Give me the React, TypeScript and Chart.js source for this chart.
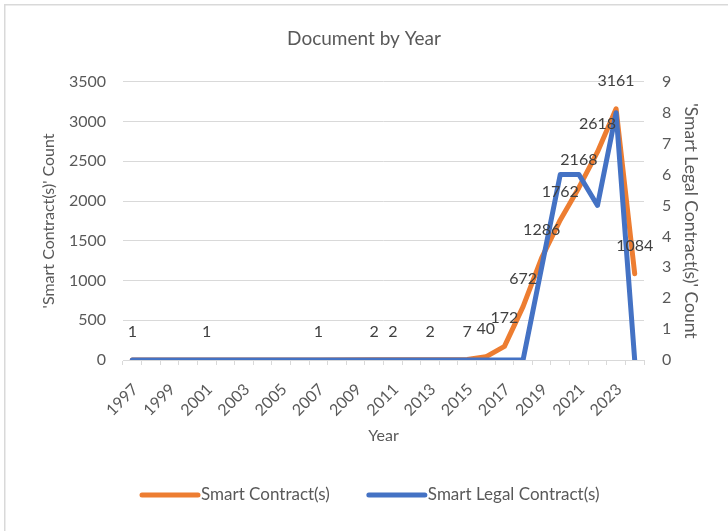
import React, { useEffect, useRef } from "react";
import { Chart, registerables } from "chart.js";

Chart.register(...registerables);

const years = [
  "1997", "1998", "1999", "2000", "2001", "2002", "2003", "2004", "2005", "2006",
  "2007", "2008", "2009", "2010", "2011", "2012", "2013", "2014", "2015", "2016",
  "2017", "2018", "2019", "2020", "2021", "2022", "2023", "2024",
];

// 'Smart Contract(s)' count (left axis); null = no documents that year
const smartContracts: (number | null)[] = [
  1, null, null, null, 1, null, null, null, null, null,
  1, null, null, 2, 2, null, 2, null, 7, 40,
  172, 672, 1286, 1762, 2168, 2618, 3161, 1084,
];

// 'Smart Legal Contract(s)' count (right axis)
const smartLegalContracts: number[] = [
  0, 0, 0, 0, 0, 0, 0, 0, 0, 0,
  0, 0, 0, 0, 0, 0, 0, 0, 0, 0,
  0, 0, 3, 6, 6, 5, 8, 0,
];

const leftAxisMax = 3500;
const leftAxisStep = 500;
const rightAxisMax = 9;
const rightAxisStep = 1;

const FONT = "Lato, 'Open Sans', sans-serif";
const TEXT = "#595959";
const LABEL = "#404040";
const GRID = "#d9d9d9";
const ORANGE = "#ED7D31";
const BLUE = "#4472C4";

const frame = {
  id: "frame",
  beforeDraw(chart: any) {
    const ctx = chart.ctx;
    ctx.save();
    ctx.fillStyle = "#ffffff";
    ctx.fillRect(0, 0, chart.width, chart.height);
    ctx.strokeStyle = GRID;
    ctx.lineWidth = 1.5;
    ctx.strokeRect(4.75, 4.75, chart.width + 40, chart.height + 40);
    ctx.restore();
  },
};

const dataLabels = {
  id: "dataLabels",
  afterDatasetsDraw(chart: any) {
    const ctx = chart.ctx;
    const meta = chart.getDatasetMeta(0);
    const data = chart.data.datasets[0].data;
    ctx.save();
    ctx.font = `16px ${FONT}`;
    ctx.fillStyle = LABEL;
    ctx.textAlign = "center";
    ctx.textBaseline = "middle";
    meta.data.forEach((pt: any, i: number) => {
      const v = data[i];
      if (v === null || v === undefined) return;
      ctx.fillText(String(v), pt.x, pt.y - 28);
    });
    ctx.restore();
  },
};

const customLegend = {
  id: "customLegend",
  afterDraw(chart: any) {
    const ctx = chart.ctx;
    const y = 495;
    let x = 142;
    ctx.save();
    ctx.font = `17px ${FONT}`;
    ctx.textBaseline = "middle";
    ctx.textAlign = "left";
    chart.data.datasets.forEach((ds: any) => {
      ctx.strokeStyle = ds.borderColor;
      ctx.lineWidth = 5;
      ctx.lineCap = "round";
      ctx.beginPath();
      ctx.moveTo(x, y);
      ctx.lineTo(x + 56, y);
      ctx.stroke();
      ctx.fillStyle = TEXT;
      ctx.fillText(ds.label, x + 59, y);
      x += 59 + ctx.measureText(ds.label).width + 39;
    });
    ctx.restore();
  },
};

export default function App() {
  const ref = useRef<HTMLCanvasElement | null>(null);

  useEffect(() => {
    if (!ref.current) return;
    const chart = new Chart(ref.current, {
      type: "line",
      data: {
        labels: years,
        datasets: [
          {
            label: "Smart Contract(s)",
            data: smartContracts,
            borderColor: ORANGE,
            backgroundColor: ORANGE,
            borderWidth: 5,
            pointRadius: 0,
            borderJoinStyle: "round",
            borderCapStyle: "round",
            spanGaps: true,
            yAxisID: "y",
            order: 1,
          },
          {
            label: "Smart Legal Contract(s)",
            data: smartLegalContracts,
            borderColor: BLUE,
            backgroundColor: BLUE,
            borderWidth: 5,
            pointRadius: 0,
            borderJoinStyle: "round",
            borderCapStyle: "round",
            yAxisID: "y1",
            order: 0,
          },
        ],
      },
      options: {
        responsive: false,
        animation: false,
        layout: { padding: { left: 0, right: 0, top: 0, bottom: 0 } },
        plugins: {
          legend: { display: false },
          tooltip: { enabled: false },
          title: {
            display: true,
            text: "Document by Year",
            color: TEXT,
            font: { family: FONT, size: 19, weight: "normal" },
            padding: { top: 27, bottom: 32 },
          },
        },
        scales: {
          x: {
            type: "category",
            offset: true,
            grid: {
              offset: true,
              drawOnChartArea: false,
              drawTicks: true,
              tickLength: 5,
              color: GRID,
            },
            border: { color: GRID, width: 1 },
            ticks: {
              autoSkip: false,
              minRotation: 45,
              maxRotation: 45,
              padding: 15,
              labelOffset: 3,
              color: TEXT,
              font: { family: FONT, size: 16 },
              callback: (_v: any, i: number) => (i % 2 === 0 ? years[i] : ""),
            },
            title: {
              display: true,
              text: "Year",
              color: TEXT,
              font: { family: FONT, size: 16 },
              padding: { top: 0, bottom: 86 },
            },
            afterFit: (s: any) => {
              s.height = 171;
            },
          },
          y: {
            position: "left",
            min: 0,
            max: leftAxisMax,
            grid: { color: GRID, drawTicks: false },
            border: { display: false },
            ticks: {
              stepSize: leftAxisStep,
              padding: 17,
              color: TEXT,
              font: { family: FONT, size: 16 },
              callback: (v: any) => String(v),
            },
            title: {
              display: true,
              text: "'Smart Contract(s)' Count",
              color: TEXT,
              font: { family: FONT, size: 16 },
              padding: { top: 39, bottom: 0 },
            },
            afterFit: (s: any) => {
              s.width = 123;
            },
          },
          y1: {
            position: "right",
            min: 0,
            max: rightAxisMax,
            grid: { display: false, drawTicks: false },
            border: { display: false },
            ticks: {
              stepSize: rightAxisStep,
              padding: 18,
              color: TEXT,
              font: { family: FONT, size: 16 },
              callback: (v: any) => String(v),
            },
            title: {
              display: true,
              text: "'Smart Legal Contract(s)' Count",
              color: TEXT,
              font: { family: FONT, size: 17.5 },
              padding: { top: 27, bottom: 0 },
            },
            afterFit: (s: any) => {
              s.width = 84;
            },
          },
        },
      },
      plugins: [frame, dataLabels, customLegend],
    });
    return () => chart.destroy();
  }, []);

  return (
    <div style={{ position: "absolute", left: 0, top: 0, width: 728, height: 531 }}>
      <canvas ref={ref} width={728} height={531} />
    </div>
  );
}
